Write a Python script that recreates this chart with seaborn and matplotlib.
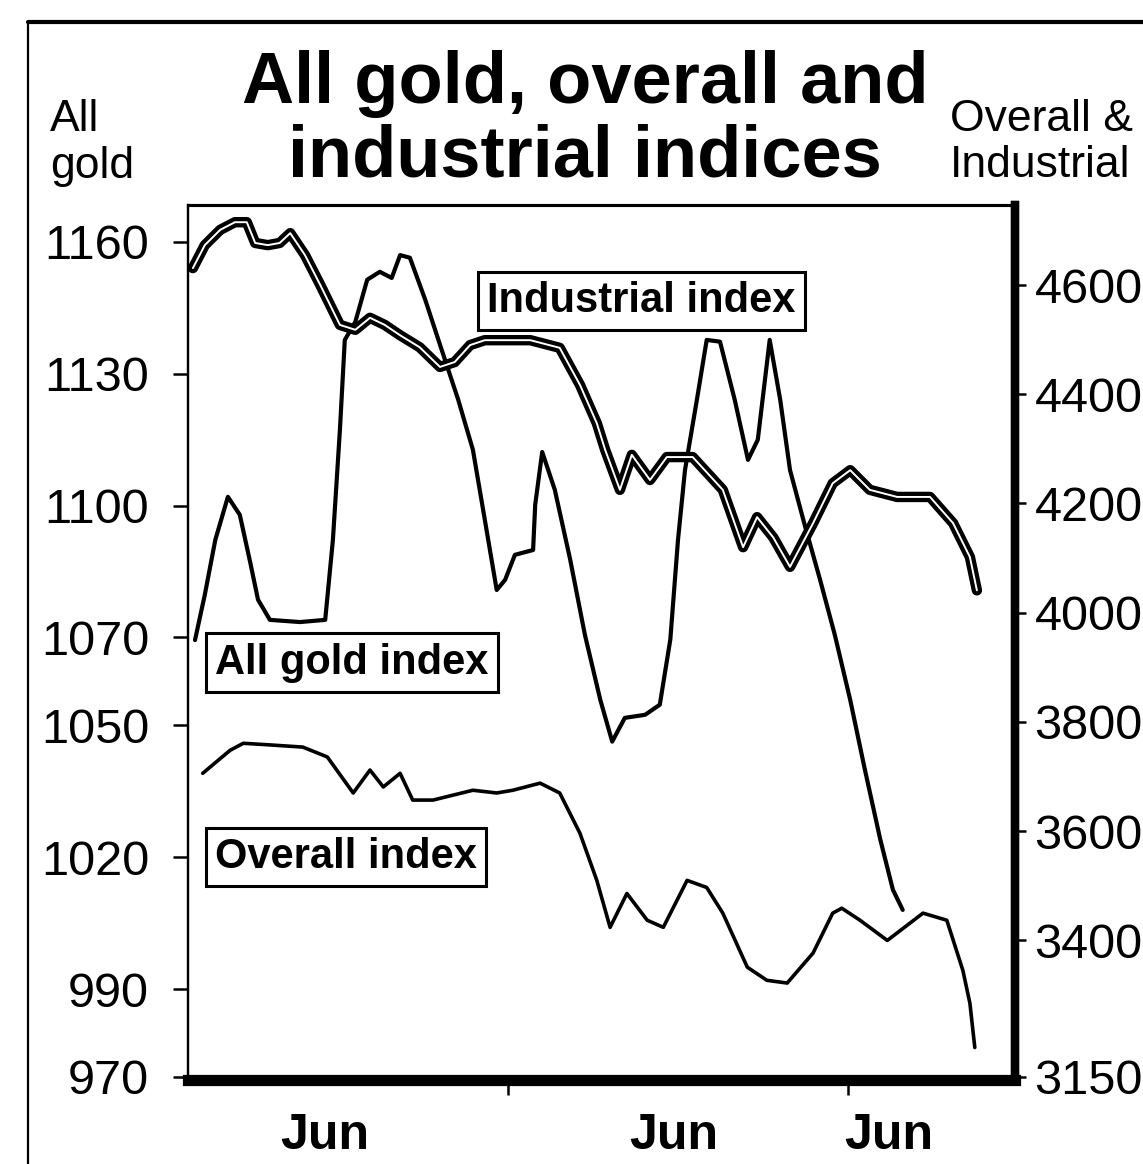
import numpy as np
import pandas as pd
import matplotlib
matplotlib.use('Agg')
import matplotlib.pyplot as plt
from matplotlib.lines import Line2D
import seaborn as sns

# trading days from the start of the window, and index levels
industrial_day = [0.7, 2.4, 4.6, 6.7, 8.4, 9.6, 11.4, 13.1, 14.6, 16.7, 18.9, 21.7, 23.9, 26.0,
                  28.1, 30.3, 33.1, 36.0, 38.1, 40.3, 42.4, 48.9, 53.1, 56.0, 58.4, 59.6, 61.7,
                  63.4, 66.0, 68.4, 72.1, 76.4, 79.3, 81.3, 83.6, 86.0, 89.3, 92.1, 94.6, 97.4,
                  101.3, 106.0, 109.3, 111.7, 112.7]
industrial = [4631, 4673, 4701, 4715, 4715, 4677, 4673, 4677, 4695, 4655, 4600, 4527, 4518, 4540,
              4527, 4508, 4486, 4450, 4459, 4490, 4499, 4499, 4485, 4417, 4347, 4298, 4225,
              4289, 4243, 4285, 4285, 4225, 4120, 4175, 4138, 4084, 4164, 4237, 4261, 4225,
              4212, 4212, 4164, 4102, 4041]

gold_day = [1.0, 2.4, 3.9, 5.7, 7.4, 8.9, 10.0, 11.7, 16.0, 19.6, 20.7, 21.7, 22.4, 23.9, 25.6,
            27.4, 29.1, 30.3, 31.7, 33.9, 36.0, 38.6, 40.7, 42.4, 44.1, 45.3, 46.7, 49.3, 49.6,
            50.6, 52.4, 54.6, 56.7, 58.9, 60.6, 62.4, 65.3, 67.4, 68.9, 70.0, 71.0, 72.7, 74.1,
            76.0, 78.1, 80.0, 81.4, 83.1, 84.6, 86.0, 88.1, 90.3, 92.4, 94.6, 96.7, 98.9, 100.7,
            102.1]
all_gold = [1069.4, 1079.7, 1092.2, 1102.0, 1097.9, 1087.0, 1078.6, 1074.0, 1073.5, 1074.0,
            1092.2, 1117.2, 1137.7, 1141.8, 1151.4, 1153.2, 1151.8, 1157.0, 1156.4, 1146.8,
            1136.6, 1124.1, 1112.7, 1096.8, 1080.8, 1083.1, 1088.8, 1089.9, 1100.2, 1112.2,
            1103.6, 1087.7, 1070.6, 1055.8, 1046.3, 1051.7, 1052.4, 1054.7, 1069.5, 1092.2,
            1108.1, 1124.1, 1137.7, 1137.3, 1124.1, 1110.4, 1115.0, 1137.7, 1124.1, 1108.1,
            1095.6, 1083.1, 1070.6, 1055.8, 1039.9, 1024.0, 1012.6, 1008.0]

overall_day = [2.1, 6.0, 7.9, 11.7, 16.4, 19.9, 23.6, 26.0, 27.9, 30.3, 32.1, 35.0, 40.7, 44.1,
               46.4, 50.3, 53.1, 56.0, 58.4, 60.3, 62.7, 65.6, 67.9, 71.3, 74.1, 76.4, 79.9,
               82.7, 85.6, 89.3, 92.1, 93.4, 96.0, 99.9, 105.0, 108.4, 110.7, 111.7, 112.4]
overall = [3706, 3748, 3761, 3758, 3754, 3736, 3670, 3712, 3681, 3706, 3657, 3657, 3675, 3670,
           3675, 3688, 3670, 3596, 3510, 3424, 3486, 3437, 3424, 3510, 3497, 3450, 3351,
           3327, 3322, 3377, 3450, 3459, 3437, 3400, 3450, 3437, 3345, 3285, 3204]

gold_ticks = [1160, 1130, 1100, 1070, 1050, 1020, 990, 970]
right_ticks = [4600, 4400, 4200, 4000, 3800, 3600, 3400, 3150]
month_pos = [19.6, 69.4, 100.1]
month_labels = ['Jun', 'Jun', 'Jun']
minor_pos = [45.7, 94.3]

sns.set_style('white')
plt.rcParams['font.family'] = ['Liberation Sans', 'DejaVu Sans']
plt.rcParams['text.color'] = 'black'
plt.rcParams['xtick.color'] = 'black'
plt.rcParams['ytick.color'] = 'black'
plt.rcParams['axes.labelcolor'] = 'black'

W, H = 1143, 1164
fig = plt.figure(figsize=(W / 100, H / 100), dpi=100)
ax = fig.add_axes([188 / W, (H - 1080) / H, 827 / W, 875 / H])
ax2 = ax.twinx()

df_ind = pd.DataFrame({'day': industrial_day, 'value': industrial})
df_gold = pd.DataFrame({'day': gold_day, 'value': all_gold})
df_all = pd.DataFrame({'day': overall_day, 'value': overall})

sns.lineplot(data=df_gold, x='day', y='value', ax=ax, color='black', linewidth=3.0,
             estimator=None, solid_joinstyle='round', solid_capstyle='round')
sns.lineplot(data=df_all, x='day', y='value', ax=ax2, color='black', linewidth=2.6,
             estimator=None, solid_joinstyle='round', solid_capstyle='round')
sns.lineplot(data=df_ind, x='day', y='value', ax=ax2, color='black', linewidth=7.5,
             estimator=None, solid_joinstyle='round', solid_capstyle='round')
sns.lineplot(data=df_ind, x='day', y='value', ax=ax2, color='white', linewidth=1.4,
             estimator=None, solid_joinstyle='round')

ax.set_xlim(0, 827 / 7)
ax.set_ylim(969.3, 1168.4)
ax2.set_ylim(3144.5, 4746.5)

ax.set_xlabel('')
ax.set_ylabel('')
ax2.set_ylabel('')

ax.set_yticks(gold_ticks)
ax.set_yticklabels([str(t) for t in gold_ticks])
ax2.set_yticks(right_ticks)
ax2.set_yticklabels([str(t) for t in right_ticks])
ax.set_xticks(month_pos)
ax.set_xticklabels(month_labels, fontweight='bold')
ax.set_xticks(minor_pos, minor=True)

ax.tick_params(axis='y', which='major', direction='out', length=11, width=1.8,
               labelsize=35, pad=17, left=True)
ax2.tick_params(axis='y', which='major', direction='out', length=8, width=1.8,
                labelsize=35, pad=6, right=True)
ax.tick_params(axis='x', which='major', length=0, labelsize=36, pad=24)
ax.tick_params(axis='x', which='minor', direction='out', length=11, width=1.8, bottom=True)

for a in (ax, ax2):
    a.spines['left'].set_linewidth(1.6)
    a.spines['top'].set_linewidth(2.2)
    a.spines['right'].set_linewidth(6)
    a.spines['bottom'].set_linewidth(8)
    for s in a.spines.values():
        s.set_color('black')
ax.grid(False)
ax2.grid(False)

box = dict(boxstyle='square,pad=0.22', facecolor='white', edgecolor='black', linewidth=2.2)
ax2.text(0.548, 0.890, 'Industrial index', transform=ax.transAxes, fontsize=30,
         fontweight='bold', ha='center', va='center', bbox=box, zorder=10)
ax2.text(0.198, 0.477, 'All gold index', transform=ax.transAxes, fontsize=30,
         fontweight='bold', ha='center', va='center', bbox=box, zorder=10)
ax2.text(0.191, 0.255, 'Overall index', transform=ax.transAxes, fontsize=30,
         fontweight='bold', ha='center', va='center', bbox=box, zorder=10)

# titles and axis captions
fig.text(585 / W, 1 - 121 / H, 'All gold, overall and\nindustrial indices', ha='center',
         va='center', fontsize=52, fontweight='bold', linespacing=1.1)
fig.text(50 / W, 1 - 99 / H, 'All\ngold', ha='left', va='top', fontsize=32, linespacing=1.2)
fig.text(950 / W, 1 - 99 / H, 'Overall &\nIndustrial', ha='left', va='top', fontsize=32,
         linespacing=1.15)

# outer frame of the clipping
fig.add_artist(Line2D([28 / W, 1.0], [1 - 22 / H, 1 - 22 / H], transform=fig.transFigure,
                      color='black', linewidth=3))
fig.add_artist(Line2D([28 / W, 28 / W], [1 - 22 / H, 0.0], transform=fig.transFigure,
                      color='black', linewidth=1.6))

fig.savefig('out.png', dpi=100, facecolor='white')
